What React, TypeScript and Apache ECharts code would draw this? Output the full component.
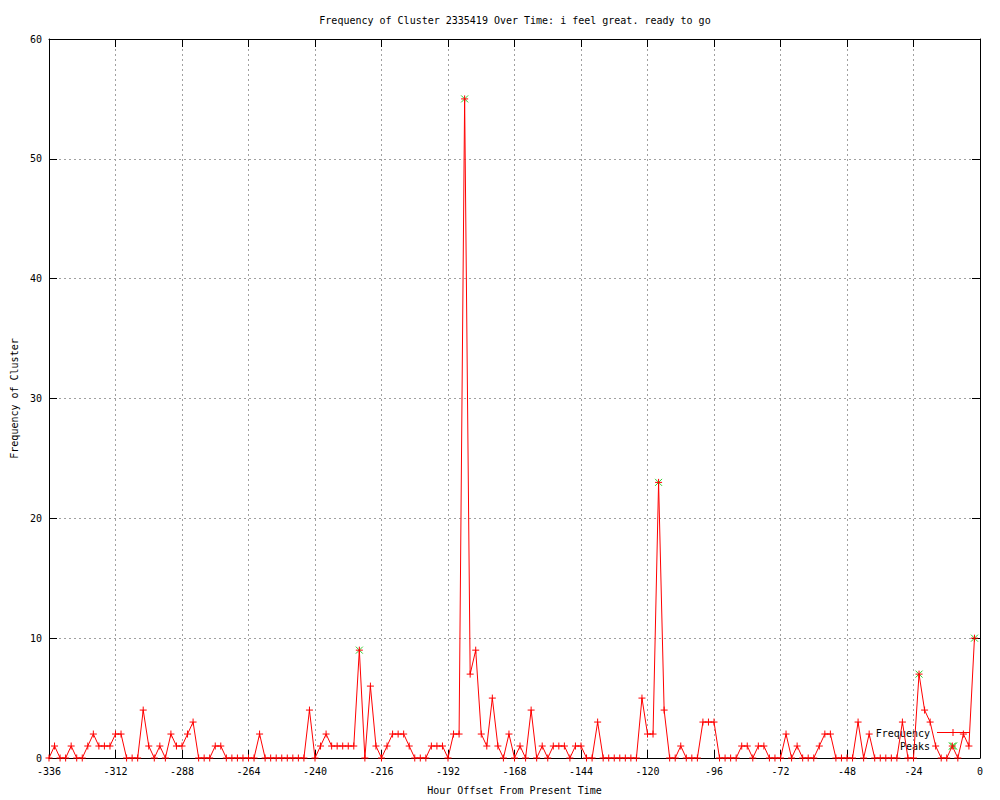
import React, { useEffect, useRef } from "react";
import * as echarts from "echarts";

const TITLE = "Frequency of Cluster 2335419 Over Time: i feel great. ready to go";
const X_NAME = "Hour Offset From Present Time";
const Y_NAME = "Frequency of Cluster";

// hourly offsets: first sample at -336 h, one sample every 2 h
const HOUR_START = -336;
const HOUR_STEP = 2;

const FREQUENCY = [
  0, 1, 0, 0, 1, 0, 0, 1, 2, 1, 1, 1, 2, 2, 0, 0, 0, 4, 1, 0, 1, 0, 2, 1, 1, 2, 3, 0, 0,
  0, 1, 1, 0, 0, 0, 0, 0, 0, 2, 0, 0, 0, 0, 0, 0, 0, 0, 4, 0, 1, 2, 1, 1, 1, 1, 1, 9,
  0, 6, 1, 0, 1, 2, 2, 2, 1, 0, 0, 0, 1, 1, 1, 0, 2, 2, 55, 7, 9, 2, 1, 5, 1, 0, 2, 0,
  1, 0, 4, 0, 1, 0, 1, 1, 1, 0, 1, 1, 0, 0, 3, 0, 0, 0, 0, 0, 0, 0, 5, 2, 2, 23, 4, 0,
  0, 1, 0, 0, 0, 3, 3, 3, 0, 0, 0, 0, 1, 1, 0, 1, 1, 0, 0, 0, 2, 0, 1, 0, 0, 0, 1, 2,
  2, 0, 0, 0, 0, 3, 0, 2, 0, 0, 0, 0, 0, 3, 0, 0, 7, 4, 3, 1, 0, 0, 1, 0, 2, 1, 10,
];

const PEAK_HOURS = [-224, -186, -116, -22, -10, -2];
const PEAK_VALUES = [9, 55, 23, 7, 1, 10];

const FONT = "DejaVu Sans Mono";
const RED = "#ff0000";
const GREEN = "#00c000";
const PLUS = "path://M0,5L10,5M5,0L5,10";
const CROSS = "path://M0,0L10,10M10,0L0,10";

export default function App() {
  const ref = useRef<HTMLDivElement>(null);

  useEffect(() => {
    document.body.style.margin = "0";
    if (!ref.current) return;
    const chart = echarts.init(ref.current, null, { renderer: "svg" });

    const freqData = FREQUENCY.map((v, i) => [HOUR_START + i * HOUR_STEP, v]);
    const peakData = PEAK_HOURS.map((h, i) => [h, PEAK_VALUES[i]]);

    const axisLine = { show: true, onZero: false, lineStyle: { color: "#000", width: 1 } };
    const axisTick = { show: true, inside: true, length: 8, lineStyle: { color: "#000", width: 1 } };
    const splitLine = { show: true, lineStyle: { color: "#a0a0a0", width: 1, type: [2, 3] } };
    const label = { color: "#000", fontFamily: FONT, fontSize: 10 };

    chart.setOption({
      animation: false,
      backgroundColor: "#fff",
      title: {
        text: TITLE,
        left: 510,
        top: 10,
        textAlign: "center",
        textStyle: { color: "#000", fontFamily: FONT, fontSize: 10, fontWeight: "normal" },
      },
      grid: { left: 49, right: 20, top: 39, bottom: 40 },
      xAxis: [
        {
          type: "value",
          position: "bottom",
          min: -336,
          max: 0,
          interval: 24,
          axisLine,
          axisTick,
          splitLine,
          axisLabel: { ...label, margin: 8 },
          name: X_NAME,
          nameLocation: "middle",
          nameGap: 27,
          nameTextStyle: { ...label },
        },
        {
          type: "value",
          position: "top",
          min: -336,
          max: 0,
          interval: 24,
          axisLine,
          axisTick,
          splitLine: { show: false },
          axisLabel: { show: false },
        },
      ],
      yAxis: [
        {
          type: "value",
          position: "left",
          min: 0,
          max: 60,
          interval: 10,
          axisLine,
          axisTick,
          splitLine,
          axisLabel: { ...label, margin: 7 },
          name: Y_NAME,
          nameLocation: "middle",
          nameGap: 29,
          nameTextStyle: { ...label },
        },
        {
          type: "value",
          position: "right",
          min: 0,
          max: 60,
          interval: 10,
          axisLine,
          axisTick,
          splitLine: { show: false },
          axisLabel: { show: false },
        },
      ],
      series: [
        {
          name: "Peaks",
          type: "scatter",
          data: peakData,
          symbol: CROSS,
          symbolSize: 7,
          itemStyle: { color: GREEN, borderColor: GREEN, borderWidth: 1 },
          z: 2,
        },
        {
          name: "Frequency",
          type: "line",
          data: freqData,
          symbol: PLUS,
          symbolSize: 7,
          showAllSymbol: true,
          lineStyle: { color: RED, width: 1 },
          itemStyle: { color: RED, borderColor: RED, borderWidth: 1 },
          z: 3,
        },
      ],
      graphic: [
        {
          type: "text",
          x: 930,
          y: 733,
          style: { text: "Frequency", fill: "#000", font: `10px "${FONT}"`, align: "right", verticalAlign: "middle" },
        },
        { type: "line", shape: { x1: 937, y1: 732.5, x2: 970, y2: 732.5 }, style: { stroke: RED, lineWidth: 1 } },
        { type: "line", shape: { x1: 949.5, y1: 732.5, x2: 956.5, y2: 732.5 }, style: { stroke: RED, lineWidth: 1 } },
        { type: "line", shape: { x1: 953, y1: 729, x2: 953, y2: 736 }, style: { stroke: RED, lineWidth: 1 } },
        {
          type: "text",
          x: 930,
          y: 746,
          style: { text: "Peaks", fill: "#000", font: `10px "${FONT}"`, align: "right", verticalAlign: "middle" },
        },
        { type: "line", shape: { x1: 950, y1: 742.5, x2: 957, y2: 749.5 }, style: { stroke: GREEN, lineWidth: 1 } },
        { type: "line", shape: { x1: 957, y1: 742.5, x2: 950, y2: 749.5 }, style: { stroke: GREEN, lineWidth: 1 } },
      ],
    });

    return () => chart.dispose();
  }, []);

  return <div ref={ref} style={{ width: 1000, height: 800 }} />;
}
